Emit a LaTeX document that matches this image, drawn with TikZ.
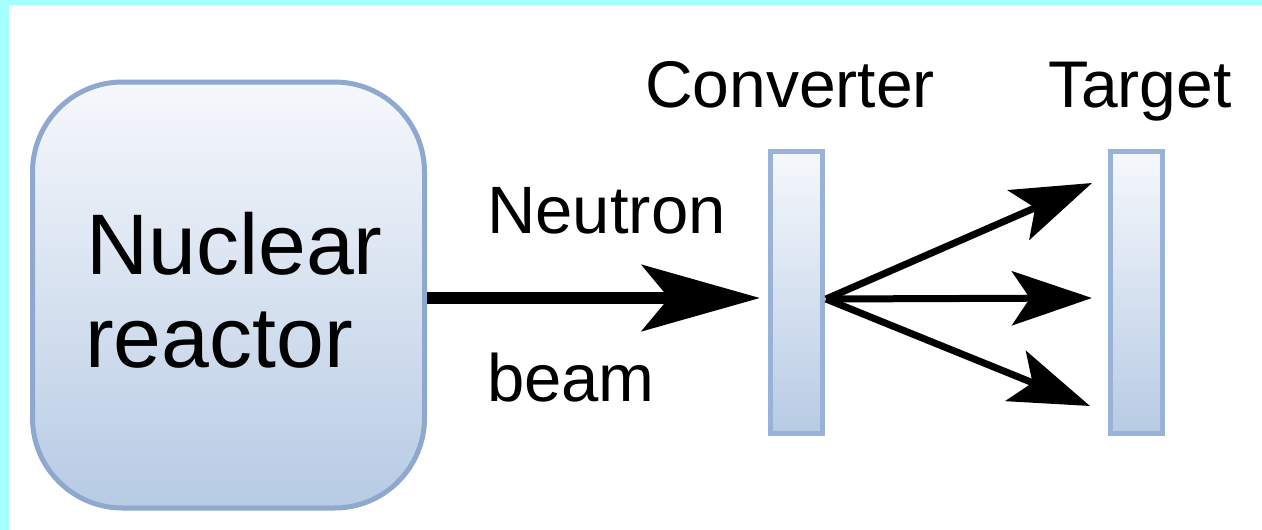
\documentclass[tikz,border=0pt]{standalone}
\usepackage{fontspec}
\setmainfont{Liberation Sans}
\usetikzlibrary{arrows.meta}
\definecolor{framecyan}{HTML}{A6FFFF}
\definecolor{boxedge}{HTML}{8FA8D0}
\definecolor{plateedge}{HTML}{98B2D8}
\definecolor{boxtop}{HTML}{F6F8FC}
\definecolor{boxbot}{HTML}{B7CBE4}
\tikzset{
  plate/.style={draw=plateedge, line width=5pt, top color=boxtop, bottom color=boxbot,
    minimum width=52pt, minimum height=282pt, inner sep=0pt},
  label/.style={inner sep=0pt, anchor=base west},
  beam/.style={line width=12pt, -{Stealth[length=118pt, width=66pt, inset=27pt]}},
  ray/.style={line width=7pt, -{Stealth[length=80pt, width=54pt, inset=18pt]}},
}
\begin{document}
\begin{tikzpicture}[x=1pt, y=-1pt]
  % page and cyan frame strips
  \useasboundingbox (0,0) rectangle (1262,530);
  \fill[framecyan] (0,0) rectangle (1262,5);
  \fill[framecyan] (0,0) rectangle (9,530);

  % reactor block
  \node[draw=boxedge, line width=5pt, rounded corners=90pt,
        top color=boxtop, bottom color=boxbot,
        minimum width=392pt, minimum height=426pt, inner sep=0pt] (reactor) at (228.5,295) {};
  \node[label, font=\fontsize{86}{93}\selectfont] (nuc) at (86,274) {Nuclear};
  \node[label, font=\fontsize{86}{93}\selectfont] (rea) at (85,367) {reactor};

  % converter and target plates
  \node[plate] (conv) at (796,292) {};
  \node[plate] (targ) at (1136,292) {};
  \node[label, font=\fontsize{66}{72}\selectfont] (convlbl) at (645,107) {Converter};
  \node[label, font=\fontsize{66}{72}\selectfont] (targlbl) at (1048,107) {Target};

  % beam labels
  \node[label, font=\fontsize{67}{72}\selectfont] (neu) at (487,233) {Neutron};
  \node[label, font=\fontsize{67}{72}\selectfont] (bea) at (487,401) {beam};

  % neutron beam
  \coordinate (bstart) at (reactor.east |- 0,298);
  \coordinate (bend) at (760,298);
  \draw[beam] (bstart) -- (bend);

  % secondary rays
  \coordinate (src) at (826,299);
  \coordinate (t1) at (1092,183);
  \coordinate (t2) at (1092,298);
  \coordinate (t3) at (1090,406);
  \draw[ray] (src) -- (t1);
  \draw[ray] (src) -- (t2);
  \draw[ray] (src) -- (t3);
\end{tikzpicture}
\end{document}
